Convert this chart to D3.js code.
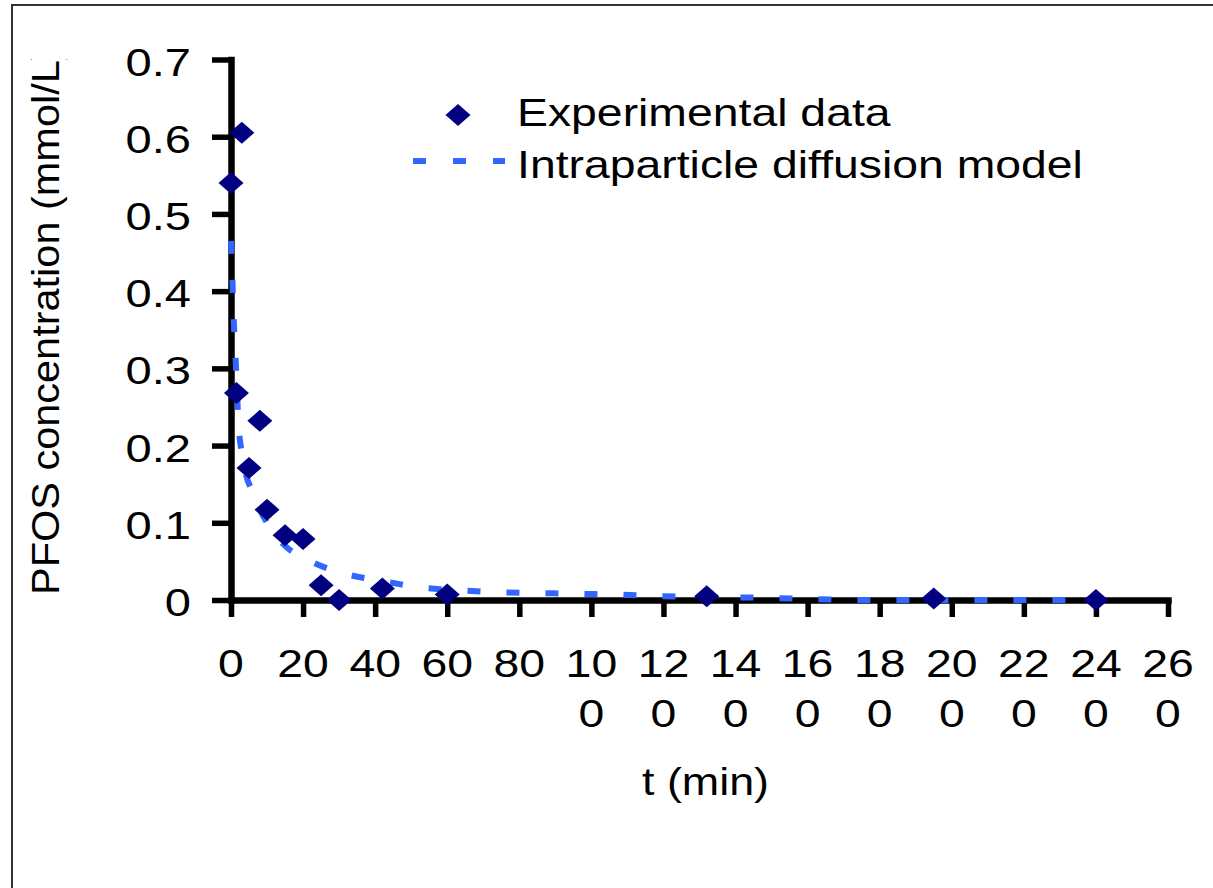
<!DOCTYPE html>
<html>
<head>
<meta charset="utf-8">
<script src="https://cdn.jsdelivr.net/npm/d3@7"></script>
<style>
  body { margin: 0; background: #fff; }
  text { font-family: "Liberation Sans", Arial, sans-serif; fill: #000; }
</style>
</head>
<body>
<script>
// experimental points
const expTime = [0, 1.5, 3, 5, 8, 10, 15, 20, 25, 30, 42, 60, 132, 195, 240];
const expConc = [0.540, 0.268, 0.605, 0.171, 0.232, 0.117, 0.084, 0.079, 0.019, 0.0, 0.015, 0.007, 0.005, 0.002, 0.0];

// model curve
const modelTime = [0, 0.3, 0.7, 1.2, 1.6, 2, 3, 4, 6, 8, 10, 13, 16, 20, 23, 30, 40, 45, 50, 58, 65, 75, 85, 96, 108, 120, 131, 146, 156, 168, 180, 210, 240];
const modelConc = [0.465, 0.43, 0.37, 0.32, 0.28, 0.235, 0.19, 0.165, 0.14, 0.117, 0.10, 0.08, 0.066, 0.055, 0.048, 0.036, 0.026, 0.022, 0.018, 0.014, 0.012, 0.010, 0.009, 0.008, 0.007, 0.005, 0.004, 0.003, 0.002, 0.0005, 0.0, 0.0, 0.0];

const xTicks = [0, 20, 40, 60, 80, 100, 120, 140, 160, 180, 200, 220, 240, 260];
const yTicks = [0, 0.1, 0.2, 0.3, 0.4, 0.5, 0.6, 0.7];
const seriesNames = ["Experimental data", "Intraparticle diffusion model"];
const xTitle = "t (min)";
const yTitle = "PFOS concentration (mmol/L)";

const width = 1213, height = 888;
const stretch = 1.22;   // text in the picture is drawn wide
const navy = "#000080", blue = "#3366ff";

var svg = d3.select("body").append("svg")
  .attr("width", width)
  .attr("height", height);

// outer frame (only top and left edges are inside the picture)
svg.append("rect")
  .attr("x", 12).attr("y", 5)
  .attr("width", 1400).attr("height", 1000)
  .attr("fill", "none").attr("stroke", "#333").attr("stroke-width", 2);

var x = d3.scaleLinear().domain([0, 260]).range([231, 1168]);
var y = d3.scaleLinear().domain([0, 0.7]).range([600, 59.5]);

// axes
var xAxis = d3.axisBottom(x).tickValues(xTicks).tickSize(17).tickSizeOuter(0).tickFormat("");
var yAxis = d3.axisLeft(y).tickValues(yTicks).tickSize(19).tickSizeOuter(0).tickFormat("");

var gx = svg.append("g").attr("transform", "translate(0,600)").call(xAxis);
var gy = svg.append("g").attr("transform", "translate(231,0)").call(yAxis);
[gx, gy].forEach(function (g) {
  g.selectAll("line").attr("stroke", "#000").attr("stroke-width", 5.5);
  g.select(".domain").attr("stroke", "#000").attr("stroke-width", 6.5).attr("stroke-linecap", "square");
});

// x tick labels, wrapped in two-character lines like the original
xTicks.forEach(function (t) {
  var s = String(t);
  var parts = s.length > 2 ? [s.slice(0, 2), s.slice(2)] : [s];
  parts.forEach(function (p, i) {
    svg.append("text")
      .attr("transform", "translate(" + x(t) + "," + (677 + i * 50) + ") scale(" + stretch + ",1)")
      .attr("text-anchor", "middle")
      .style("font-size", "38px")
      .text(p);
  });
});

// y tick labels
yTicks.forEach(function (v) {
  svg.append("text")
    .attr("transform", "translate(191," + (y(v) + 16) + ") scale(" + 1.24 + ",1)")
    .attr("text-anchor", "end")
    .style("font-size", "38px")
    .text(v === 0 ? "0" : v.toFixed(1));
});

// axis titles
svg.append("text")
  .attr("transform", "translate(" + ((x(0) + x(260)) / 2 + 6) + ",795) scale(1.18,1)")
  .attr("text-anchor", "middle")
  .style("font-size", "38px")
  .text(xTitle);

svg.append("clipPath").attr("id", "yclip")
  .append("rect").attr("x", 0).attr("y", 59).attr("width", 220).attr("height", 800);

svg.append("g").attr("clip-path", "url(#yclip)")
  .append("g").attr("transform", "translate(59,595) rotate(-90) scale(1.092,1)")
  .append("text")
  .attr("text-anchor", "start")
  .style("font-size", "38px")
  .text(yTitle);

// model line
var modelData = modelTime.map(function (t, i) { return [t, modelConc[i]]; });
var line = d3.line()
  .x(function (d) { return x(d[0]); })
  .y(function (d) { return y(d[1]); })
  .curve(d3.curveMonotoneX);

svg.append("path")
  .datum(modelData)
  .attr("d", line)
  .attr("fill", "none")
  .attr("stroke", blue)
  .attr("stroke-width", 6)
  .attr("stroke-dasharray", "13,26");

// experimental markers
var diamond = "M0,-11L12.5,0L0,11L-12.5,0Z";
svg.selectAll(".pt")
  .data(expTime.map(function (t, i) { return [t, expConc[i]]; }))
  .enter()
  .append("path")
  .attr("class", "pt")
  .attr("d", diamond)
  .attr("fill", navy)
  .attr("transform", function (d) { return "translate(" + x(d[0]) + "," + y(d[1]) + ")"; });

// legend
var legend = svg.append("g");
legend.append("path")
  .attr("d", diamond)
  .attr("fill", navy)
  .attr("transform", "translate(458,115)");
legend.append("line")
  .attr("x1", 413).attr("x2", 505)
  .attr("y1", 161).attr("y2", 161)
  .attr("stroke", blue)
  .attr("stroke-width", 6)
  .attr("stroke-dasharray", "13,27");
seriesNames.forEach(function (name, i) {
  legend.append("text")
    .attr("transform", "translate(517," + (126 + i * 52) + ") scale(" + stretch + ",1)")
    .style("font-size", "38px")
    .text(name);
});
</script>
</body>
</html>
